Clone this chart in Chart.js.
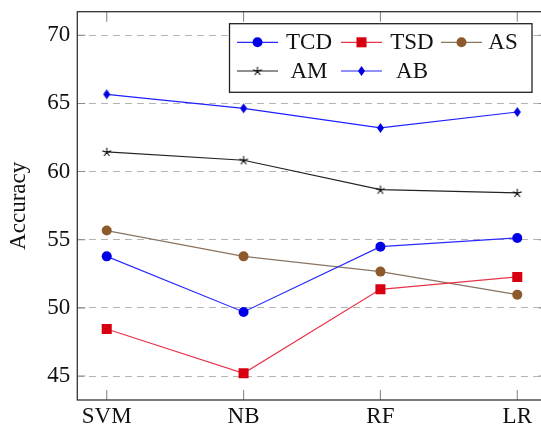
<!DOCTYPE html>
<html><head><meta charset="utf-8">
<script src="https://cdn.jsdelivr.net/npm/chart.js@4"></script>
<style>
html,body{margin:0;padding:0;overflow:hidden;background:#fff;width:541px;height:428px}
#wrap{position:absolute;left:0;top:0;width:560px;height:450px}
</style>
</head><body><div id="wrap"><canvas id="c" width="560" height="450"></canvas></div>
<script>
const categories = ['SVM', 'NB', 'RF', 'LR'];
const seriesNames = ['TCD', 'TSD', 'AS', 'AM', 'AB'];
const TCD = [53.78, 49.70, 54.49, 55.13];
const TSD = [48.45, 45.20, 51.36, 52.27];
const AS  = [55.67, 53.78, 52.66, 50.97];
const AM  = [61.44, 60.83, 58.67, 58.43];
const AB  = [65.67, 64.64, 63.20, 64.37];
const yTicks = [45, 50, 55, 60, 65, 70];
const yTitle = 'Accuracy';

const FONT = "'Liberation Serif', 'Times New Roman', serif";
const FSIZE = 23;

function makeDiamond(color) {
  const c = document.createElement('canvas');
  c.width = 9; c.height = 12;
  const g = c.getContext('2d');
  g.fillStyle = color;
  g.beginPath();
  g.moveTo(4.5, 1); g.lineTo(8, 6); g.lineTo(4.5, 11); g.lineTo(1, 6); g.closePath();
  g.fill();
  return c;
}
function makeStar(color) {
  const c = document.createElement('canvas');
  c.width = 12; c.height = 12;
  const g = c.getContext('2d');
  g.strokeStyle = color; g.lineWidth = 1.1;
  g.beginPath();
  for (let k = 0; k < 5; k++) {
    const a = -Math.PI / 2 + k * 2 * Math.PI / 5;
    g.moveTo(6, 6.3); g.lineTo(6 + 4.6 * Math.cos(a), 6.3 + 4.6 * Math.sin(a));
  }
  g.stroke();
  return c;
}

const diamondImg = makeDiamond('#0000e0');
const starImg = makeStar('#111');

const seriesValues = [TCD, TSD, AS, AM, AB];
const styles = [
  {line: '#2a2aff', fill: '#0000e8', point: 'circle', r: 5},
  {line: '#e8344a', fill: '#d80010', point: 'rect', r: 7.1},
  {line: '#8a7462', fill: '#8c5a2c', point: 'circle', r: 5},
  {line: '#222222', fill: '#111111', point: starImg, r: 5},
  {line: '#2020ff', fill: '#0000e0', point: diamondImg, r: 5}
];

const datasets = seriesNames.map((name, i) => ({
  label: name,
  data: seriesValues[i].map((v, j) => ({x: j, y: v})),
  borderColor: styles[i].line,
  backgroundColor: styles[i].fill,
  pointBackgroundColor: styles[i].fill,
  pointBorderColor: styles[i].fill,
  pointBorderWidth: 0,
  pointStyle: styles[i].point,
  pointRadius: styles[i].r,
  borderWidth: 1.2,
  tension: 0
}));

function drawMarker(ctx, st, x, y) {
  const p = st.point;
  if (typeof p !== 'string') {
    ctx.drawImage(p, x - p.width / 2, y - p.height / 2);
    return;
  }
  ctx.fillStyle = st.fill;
  if (p === 'circle') {
    ctx.beginPath(); ctx.arc(x, y, st.r, 0, Math.PI * 2); ctx.fill();
  } else {
    const s = st.r * Math.SQRT1_2;
    ctx.fillRect(x - s, y - s, 2 * s, 2 * s);
  }
}

const framePlugin = {
  id: 'frame',
  afterDatasetsDraw(chart) {
    const ctx = chart.ctx;
    const a = chart.chartArea;
    const xs = chart.scales.x, ys = chart.scales.y;
    ctx.save();
    // inward ticks
    ctx.strokeStyle = '#8a8a8a';
    ctx.lineWidth = 1.1;
    ctx.beginPath();
    categories.forEach((c, i) => {
      const px = xs.getPixelForValue(i);
      ctx.moveTo(px, a.bottom); ctx.lineTo(px, a.bottom - 10);
      ctx.moveTo(px, a.top); ctx.lineTo(px, a.top + 10);
    });
    yTicks.forEach(v => {
      const py = ys.getPixelForValue(v);
      ctx.moveTo(a.left, py); ctx.lineTo(a.left + 8, py);
      ctx.moveTo(a.right, py); ctx.lineTo(a.right - 8, py);
    });
    ctx.stroke();
    // frame
    ctx.strokeStyle = '#333';
    ctx.lineWidth = 1.3;
    ctx.strokeRect(a.left, a.top, a.right - a.left, a.bottom - a.top);

    // legend
    const box = {x: 229.5, y: 23.7, w: 302.5, h: 68.6};
    ctx.fillStyle = '#fff';
    ctx.fillRect(box.x, box.y, box.w, box.h);
    ctx.strokeStyle = '#222';
    ctx.lineWidth = 1.3;
    ctx.strokeRect(box.x, box.y, box.w, box.h);
    const colLine0 = [237, 341, 441];
    const colLine1 = [278, 382, 482];
    const colText = [309, 412, 503];
    const rowY = [42.3, 71];
    ctx.font = FSIZE + 'px ' + FONT;
    ctx.textAlign = 'center';
    ctx.textBaseline = 'middle';
    seriesNames.forEach((name, i) => {
      const col = i % 3, row = Math.floor(i / 3);
      const y = rowY[row];
      const st = styles[i];
      ctx.strokeStyle = st.line;
      ctx.lineWidth = 1.2;
      ctx.beginPath();
      ctx.moveTo(colLine0[col], y); ctx.lineTo(colLine1[col], y);
      ctx.stroke();
      drawMarker(ctx, st, (colLine0[col] + colLine1[col]) / 2, y);
      ctx.fillStyle = '#111';
      ctx.fillText(name, colText[col], y + 1);
    });
    ctx.restore();
  }
};

new Chart(document.getElementById('c'), {
  type: 'line',
  data: {datasets},
  options: {
    responsive: false,
    animation: false,
    devicePixelRatio: 1,
    layout: {padding: {top: 11.7, right: 13.3, left: 0, bottom: 0}},
    plugins: {legend: {display: false}, tooltip: {enabled: false}},
    scales: {
      x: {
        type: 'linear',
        min: -0.215, max: 3.215,
        afterBuildTicks: s => { s.ticks = categories.map((c, i) => ({value: i})); },
        afterFit: s => { s.height = 50; s.paddingLeft = 0; s.paddingRight = 0; },
        ticks: {
          callback: v => categories[v],
          font: {family: FONT, size: FSIZE},
          color: '#111',
          padding: 3,
          maxRotation: 0, autoSkip: false
        },
        grid: {display: false, drawTicks: false},
        border: {display: false}
      },
      y: {
        min: 43.24, max: 71.73,
        afterBuildTicks: s => { s.ticks = yTicks.map(v => ({value: v})); },
        afterFit: s => { s.width = 77.3; s.paddingTop = 0; s.paddingBottom = 0; },
        ticks: {
          font: {family: FONT, size: FSIZE},
          color: '#111',
          padding: 7
        },
        grid: {color: '#b4b4b4', lineWidth: 1, drawTicks: false},
        border: {display: false, dash: [7, 5]},
        title: {
          display: true, text: yTitle,
          font: {family: FONT, size: FSIZE},
          color: '#111',
          padding: {top: 5, bottom: 0}
        }
      }
    }
  },
  plugins: [framePlugin]
});
</script>
</body></html>
